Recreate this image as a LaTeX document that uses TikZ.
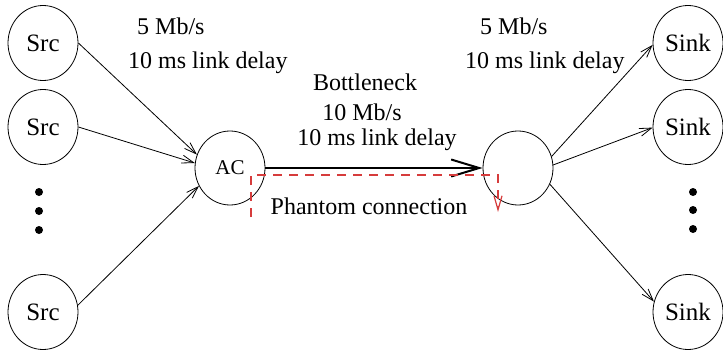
\documentclass[tikz,border=0pt]{standalone}
\usepackage{fontspec}
\setmainfont{Liberation Serif}
\usetikzlibrary{shapes.geometric,arrows.meta}
\definecolor{phantomred}{RGB}{214,60,60}
\tikzset{
  host/.style={ellipse, draw, line width=0.8pt, minimum width=70pt, minimum height=75pt,
    inner sep=0pt, font=\fontsize{25}{25}\selectfont},
  router/.style={ellipse, draw, line width=0.8pt, minimum width=70pt, minimum height=74pt,
    inner sep=0pt, font=\fontsize{21}{21}\selectfont},
  label/.style={inner sep=0pt, font=\fontsize{24}{24}\selectfont},
  link/.style={line width=0.8pt, -{Straight Barb[length=12pt,width=8pt,line width=0.8pt]}},
  bottleneck/.style={line width=2pt, -{Straight Barb[length=28pt,width=17pt,line width=2pt]}},
  phantom/.style={draw=phantomred, line width=1.2pt, dash pattern=on 9pt off 7pt,
    -{Straight Barb[length=14pt,width=8pt,line width=1.2pt]}},
  dot/.style={circle, fill, inner sep=0pt, minimum size=8pt}
}
\begin{document}
\begin{tikzpicture}[x=1pt,y=-1pt]
\useasboundingbox (0,0) rectangle (723,353);

% end hosts and routers
\node[host] (src1) at (43,43) {Src};
\node[host] (src2) at (43,127) {Src};
\node[host] (src3) at (43,312) {Src};
\node[router] (ac) at (230,168) {AC};
\node[router] (rt) at (518,168) {};
\node[host] (snk1) at (688,43) {Sink};
\node[host] (snk2) at (688,127) {Sink};
\node[host] (snk3) at (688,312) {Sink};

% elided hosts
\node[dot] (sd1) at (39,192) {};
\node[dot] (sd2) at (39,211) {};
\node[dot] (sd3) at (39,230) {};
\node[dot] (kd1) at (693,192) {};
\node[dot] (kd2) at (693,210) {};
\node[dot] (kd3) at (693,229) {};

% access links
\draw[link] (src1.east) -- (ac.158);
\draw[link] (src2.east) -- (ac.172);
\draw[link] (src3.11) -- (ac.210);
\draw[link] (rt.19) -- (snk1.183);
\draw[link] (rt.5) -- (snk2.181);
\draw[link] (rt.333) -- (snk3.163);

% bottleneck link
\draw[bottleneck] (ac.east) -- (rt.west);

% phantom connection
\coordinate (ph0) at (251,217);
\coordinate (ph1) at (251,175);
\coordinate (ph2) at (498,175);
\coordinate (ph3) at (498,212);
\draw[phantom] (ph0) -- (ph1) -- (ph2) -- (ph3);

% link labels
\node[label, anchor=west] (l1) at (137,26) {5 Mb/s};
\node[label, anchor=west] (l2) at (128,63) {10 ms link delay};
\node[label, anchor=west] (r1) at (480,26) {5 Mb/s};
\node[label, anchor=west] (r2) at (465,63) {10 ms link delay};
\node[label] (b1) at (365,82) {Bottleneck};
\node[label] (b2) at (362,112) {10 Mb/s};
\node[label] (b3) at (377,140) {10 ms link delay};
\node[label] (ph) at (369,206) {Phantom connection};
\end{tikzpicture}
\end{document}
